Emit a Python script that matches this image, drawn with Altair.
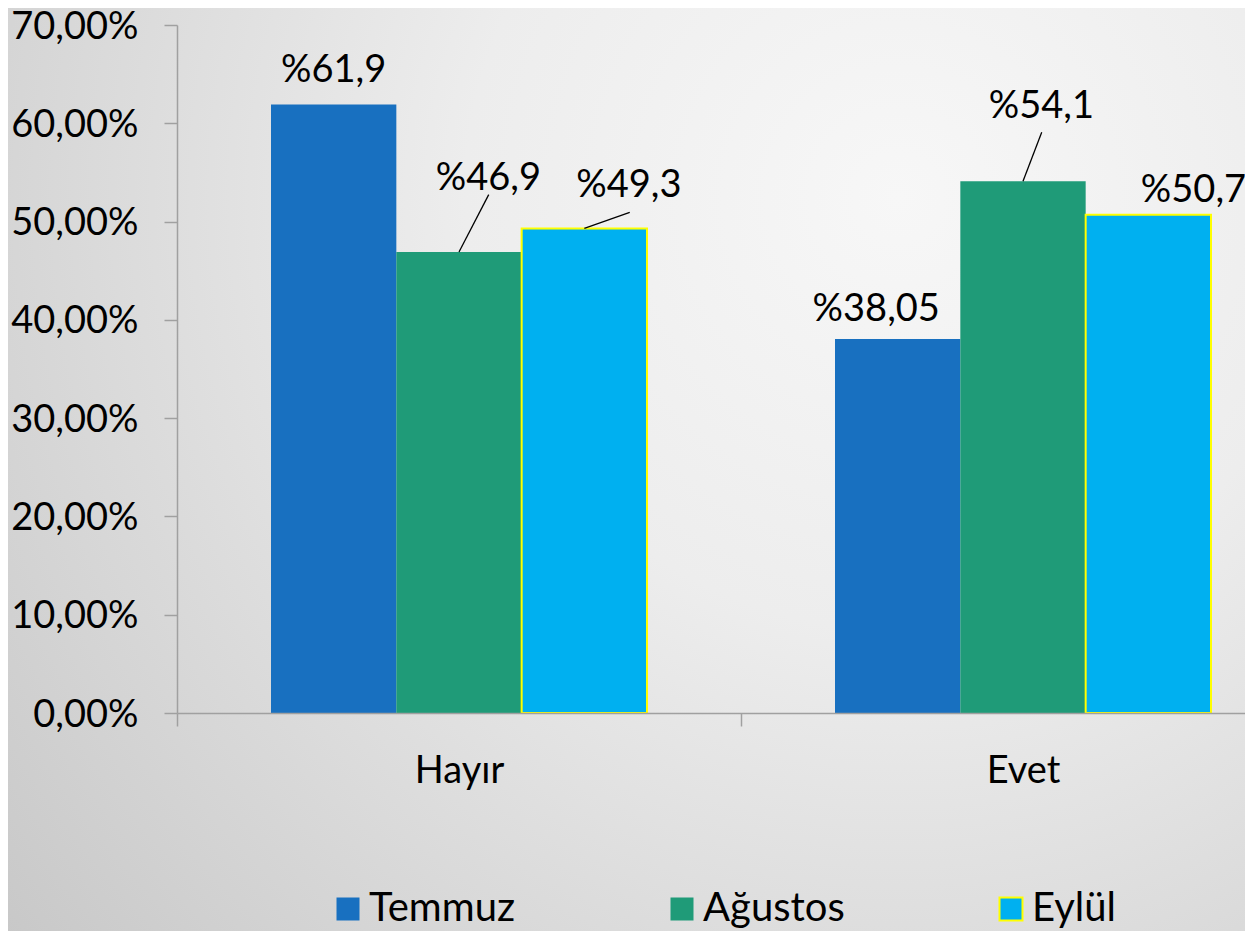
import altair as alt
import pandas as pd

# ---------------- data ----------------
categories = ["Hayır", "Evet"]
series_names = ["Temmuz", "Ağustos", "Eylül"]
values_temmuz = [61.9, 38.05]
values_agustos = [46.9, 54.1]
values_eylul = [49.3, 50.7]
labels_temmuz = ["%61,9", "%38,05"]
labels_agustos = ["%46,9", "%54,1"]
labels_eylul = ["%49,3", "%50,7"]
y_tick_values = [0, 10, 20, 30, 40, 50, 60, 70]

# annotation placement (shift from bar centre in category units, label baseline in %)
label_dx_temmuz = [0.0, -0.038]
label_dx_agustos = [0.052, 0.0325]
label_dx_eylul = [0.079, 0.08]
label_y_temmuz = [64.2, 39.9]
label_y_agustos = [53.25, 60.55]
label_y_eylul = [52.45, 52.0]
leader_dx_agustos = [0.0527, 0.0332]
leader_y_agustos = [52.74, 59.08]
leader_dx_eylul = [0.0805, None]
leader_y_eylul = [50.94, None]

colors = ["#1870C0", "#1F9B78", "#00B0F0"]
strokes = ["transparent", "transparent", "#FFFF00"]

# ---------------- layout ----------------
PLOT_W = 1068
PLOT_H = 688
BAND_PX = 564
GROUP_PAD = 1 / 6
BAR_W = 2 / 9
FONT = "Lato"
AXIS_GRAY = "#A0A0A0"
PAD = {"left": 169, "top": 17, "right": 0, "bottom": 218}

vals = [values_temmuz, values_agustos, values_eylul]
labs = [labels_temmuz, labels_agustos, labels_eylul]
ldx = [label_dx_temmuz, label_dx_agustos, label_dx_eylul]
ly = [label_y_temmuz, label_y_agustos, label_y_eylul]
lead_dx = [[None, None], leader_dx_agustos, leader_dx_eylul]
lead_y = [[None, None], leader_y_agustos, leader_y_eylul]

rows = []
for ci, cat in enumerate(categories):
    for si, s in enumerate(series_names):
        x0 = ci + GROUP_PAD + si * BAR_W
        cx = x0 + BAR_W / 2
        rows.append({
            "category": cat,
            "series": s,
            "value": vals[si][ci],
            "label": labs[si][ci],
            "x0": x0,
            "x1": x0 + BAR_W,
            "cx": cx,
            "lx": cx + ldx[si][ci],
            "ly": ly[si][ci],
            "ex": None if lead_dx[si][ci] is None else cx + lead_dx[si][ci],
            "ey": lead_y[si][ci],
        })
df = pd.DataFrame(rows)
lead_df = df.dropna(subset=["ex"])

xscale = alt.Scale(domain=[0, PLOT_W / BAND_PX], nice=False, zero=False)
yscale = alt.Scale(domain=[0, 70], nice=False)

label_expr_x = " : ".join(
    [f"datum.value == {i} ? '{c}'" for i, c in enumerate(categories)] + ["''"]
)

xaxis = alt.Axis(
    values=list(range(len(categories))),
    labelExpr=label_expr_x,
    labelOffset=BAND_PX / 2,
    labelFlush=False, labelAlign="center",
    labelFont=FONT, labelFontSize=38, labelColor="black",
    labelPadding=26, labelBaseline="top",
    domainColor=AXIS_GRAY, domainWidth=1.5,
    tickColor=AXIS_GRAY, tickWidth=1.5, tickSize=13,
    grid=False, title=None, zindex=1,
)
yaxis = alt.Axis(
    values=y_tick_values,
    labelExpr="replace(format(datum.value, '.2f'), '.', ',') + '%'",
    labelFont=FONT, labelFontSize=38, labelColor="black",
    labelPadding=26, labelBaseline="alphabetic", labelOffset=13,
    labelFlush=False,
    domainColor=AXIS_GRAY, domainWidth=1.5,
    tickColor=AXIS_GRAY, tickWidth=1.5, tickSize=13,
    grid=False, title=None, zindex=1,
)

background = alt.Chart(pd.DataFrame({"k": [0]})).mark_rect(
    fill={
        "gradient": "radial",
        "x1": 0.72, "y1": 0.28, "r1": 0,
        "x2": 0.72, "y2": 0.28, "r2": 1.0,
        "stops": [
            {"offset": 0, "color": "#F7F7F7"},
            {"offset": 0.35, "color": "#EDEDED"},
            {"offset": 1, "color": "#C4C4C4"},
        ],
    },
    strokeWidth=0,
).encode(
    x=alt.value(-PAD["left"]), x2=alt.value(PLOT_W + PAD["right"]),
    y=alt.value(-PAD["top"]), y2=alt.value(PLOT_H + PAD["bottom"]),
)

legend = alt.Legend(
    title=None, orient="none", direction="horizontal",
    legendX=151, legendY=864,
    symbolType="square", symbolSize=529, symbolStrokeWidth=2,
    labelFont=FONT, labelFontSize=40, labelColor="black",
    labelOffset=1, columnPadding=146, padding=0,
    labelLimit=400,
)

bars = alt.Chart(df).mark_bar(strokeWidth=2).encode(
    x=alt.X("x0:Q", scale=xscale, axis=xaxis, title=None),
    x2="x1:Q",
    y=alt.Y("value:Q", scale=yscale, axis=yaxis, title=None),
    y2=alt.datum(0),
    color=alt.Color(
        "series:N",
        scale=alt.Scale(domain=series_names, range=colors),
        legend=legend,
    ),
    stroke=alt.Stroke(
        "series:N",
        scale=alt.Scale(domain=series_names, range=strokes),
        legend=legend,
    ),
)

leaders = alt.Chart(lead_df).mark_rule(color="black", strokeWidth=1.3).encode(
    x=alt.X("cx:Q", scale=xscale, title=None),
    x2="ex:Q",
    y=alt.Y("value:Q", scale=yscale, title=None),
    y2="ey:Q",
)

texts = alt.Chart(df).mark_text(
    font=FONT, fontSize=38, color="black", align="center", baseline="alphabetic"
).encode(
    x=alt.X("lx:Q", scale=xscale, title=None),
    y=alt.Y("ly:Q", scale=yscale, title=None),
    text="label:N",
)

chart = alt.layer(background, bars, leaders, texts).properties(
    width=PLOT_W,
    height=PLOT_H,
    autosize=alt.AutoSizeParams(type="none"),
    padding=PAD,
).configure_view(stroke=None)

chart.save("out.html", embed_options={"renderer": "svg", "actions": False})
